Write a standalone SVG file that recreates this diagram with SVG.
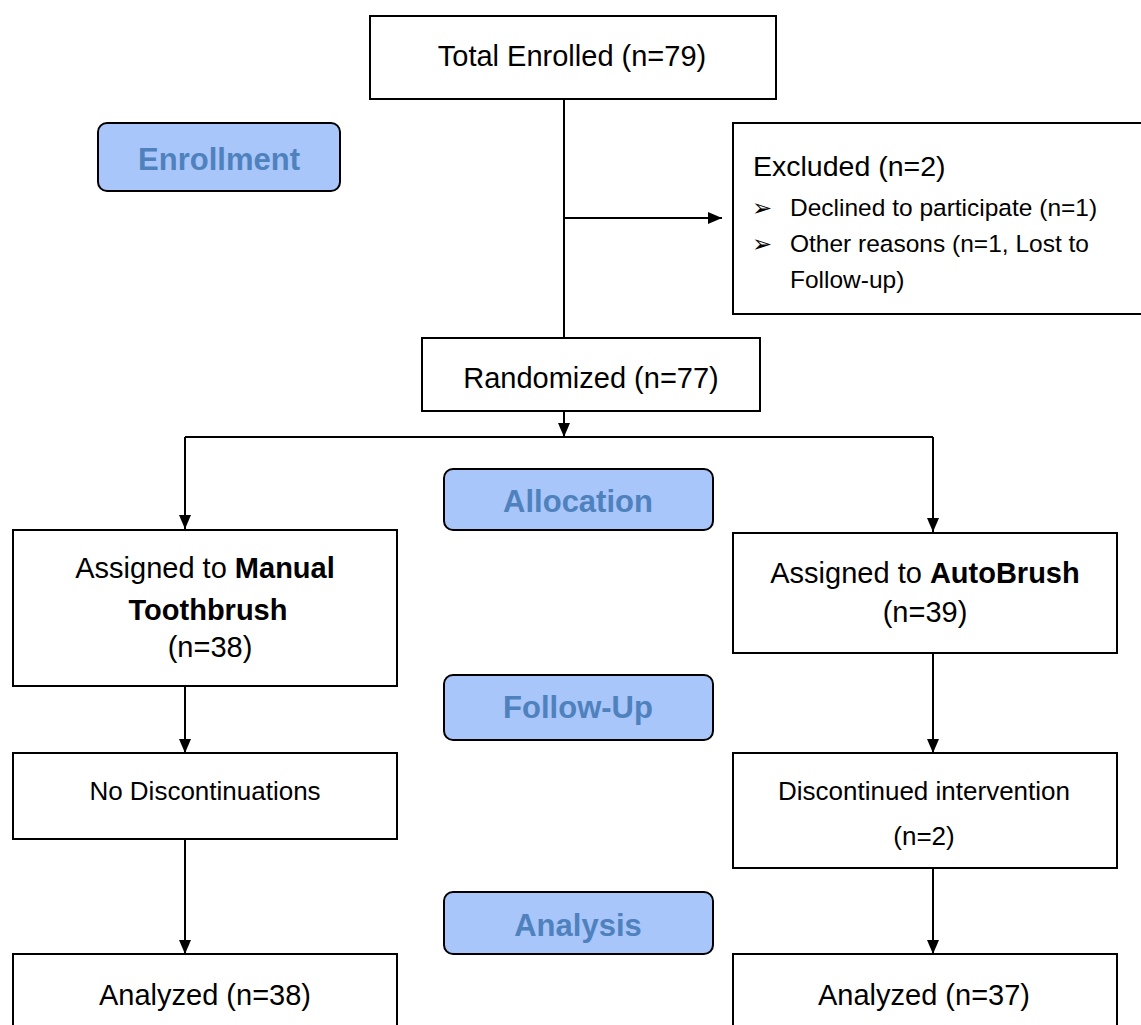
<svg xmlns="http://www.w3.org/2000/svg" width="1141" height="1025" viewBox="0 0 1141 1025">
<defs>
<marker id="arr" markerUnits="userSpaceOnUse" markerWidth="14" markerHeight="12" viewBox="0 0 14 12" refX="14" refY="6" orient="auto">
<path d="M0,0 L14,6 L0,12 z" fill="#000"/>
</marker>
</defs>
<style>
.box{fill:#fff;stroke:#000;stroke-width:2}
.pill{fill:#a8c6fa;stroke:#000;stroke-width:2}
.t{font-family:"Liberation Sans",Arial,sans-serif;font-size:29px;fill:#000;text-anchor:middle}
.s{font-size:26px}
.l{font-family:"Liberation Sans",Arial,sans-serif;font-size:24.5px;fill:#000}
.bu{font-family:"DejaVu Sans",sans-serif;font-size:24px;fill:#000}
.p{font-family:"Liberation Sans",Arial,sans-serif;font-size:31px;font-weight:bold;fill:#4f81bd;text-anchor:middle}
.b{font-weight:bold}
.c{fill:none;stroke:#000;stroke-width:2}
</style>
<rect width="1141" height="1025" fill="#fff"/>
<g id="connectors">
<path class="c" d="M564,99 V338"/>
<path class="c" d="M564,218 H722" marker-end="url(#arr)"/>
<path class="c" d="M564,411 V437" marker-end="url(#arr)"/>
<path class="c" d="M185,437 H933"/>
<path class="c" d="M185,437 V529" marker-end="url(#arr)"/>
<path class="c" d="M933,437 V532" marker-end="url(#arr)"/>
<path class="c" d="M185,686 V753" marker-end="url(#arr)"/>
<path class="c" d="M933,653 V753" marker-end="url(#arr)"/>
<path class="c" d="M185,839 V954" marker-end="url(#arr)"/>
<path class="c" d="M933,868 V954" marker-end="url(#arr)"/>
</g>
<g id="enrolled">
<rect class="box" x="370" y="16" width="406" height="83"/>
<text class="t" x="572" y="66">Total Enrolled (n=79)</text>
</g>
<g id="enrollment-label">
<rect class="pill" x="98" y="123" width="242" height="68" rx="9"/>
<text class="p" x="219" y="170">Enrollment</text>
</g>
<g id="excluded">
<rect class="box" x="733" y="123" width="420" height="191"/>
<text class="l" x="753" y="176" style="font-size:28.5px">Excluded (n=2)</text>
<text class="bu" x="752" y="216">➢</text>
<text class="l" x="790" y="216">Declined to participate (n=1)</text>
<text class="bu" x="752" y="252">➢</text>
<text class="l" x="790" y="252">Other reasons (n=1, Lost to</text>
<text class="l" x="790" y="288">Follow-up)</text>
</g>
<g id="randomized">
<rect class="box" x="422" y="338" width="338" height="73"/>
<text class="t" x="591" y="388">Randomized (n=77)</text>
</g>
<g id="allocation-label">
<rect class="pill" x="444" y="469" width="269" height="61" rx="9"/>
<text class="p" x="578" y="512">Allocation</text>
</g>
<g id="manual">
<rect class="box" x="13" y="530" width="384" height="156"/>
<text class="t" x="205" y="578">Assigned to <tspan class="b">Manual</tspan></text>
<text class="t b" x="208" y="620">Toothbrush</text>
<text class="t" x="210" y="657">(n=38)</text>
</g>
<g id="autobrush">
<rect class="box" x="733" y="533" width="384" height="120"/>
<text class="t" x="925" y="583">Assigned to <tspan class="b">AutoBrush</tspan></text>
<text class="t" x="925" y="622">(n=39)</text>
</g>
<g id="followup-label">
<rect class="pill" x="444" y="675" width="269" height="65" rx="9"/>
<text class="p" x="578" y="718">Follow-Up</text>
</g>
<g id="no-disc">
<rect class="box" x="13" y="753" width="384" height="86"/>
<text class="t s" x="205" y="800">No Discontinuations</text>
</g>
<g id="disc">
<rect class="box" x="733" y="753" width="384" height="115"/>
<text class="t s" x="924" y="800">Discontinued intervention</text>
<text class="t s" x="924" y="845">(n=2)</text>
</g>
<g id="analysis-label">
<rect class="pill" x="444" y="892" width="269" height="62" rx="9"/>
<text class="p" x="578" y="936">Analysis</text>
</g>
<g id="analyzed-manual">
<rect class="box" x="13" y="954" width="384" height="90"/>
<text class="t" x="205" y="1005">Analyzed (n=38)</text>
</g>
<g id="analyzed-auto">
<rect class="box" x="733" y="954" width="384" height="90"/>
<text class="t" x="924" y="1005">Analyzed (n=37)</text>
</g>
</svg>
